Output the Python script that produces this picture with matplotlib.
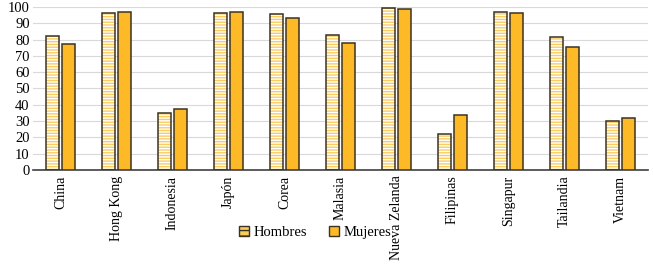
import numpy as np
import matplotlib.pyplot as plt
from matplotlib.patches import Patch

# Data
paises = ['China', 'Hong Kong', 'Indonesia', 'Japón', 'Corea', 'Malasia',
          'Nueva Zelanda', 'Filipinas', 'Singapur', 'Tailandia', 'Vietnam']
hombres = [82, 96.5, 35, 96.5, 95.5, 83, 99.5, 22, 97, 81.5, 30]
mujeres = [77, 97, 37.5, 97, 93.5, 78, 99, 34, 96.5, 75.5, 32]

plt.rcParams['font.family'] = ['Liberation Serif']
plt.rcParams['hatch.linewidth'] = 1.0

fig = plt.figure(figsize=(6.53, 2.66), dpi=100)
ax = fig.add_axes([0.0498, 0.361, 0.9432, 0.613])

x = np.arange(len(paises))
w = 0.24
off = 0.142
edge = '#3b3222'

# Hombres: light yellow with white horizontal stripes
ax.bar(x - off, hombres, w, color='#F9CC5E', hatch='------', edgecolor='white', linewidth=0, zorder=2)
ax.bar(x - off, hombres, w, fill=False, edgecolor=edge, linewidth=1.1, zorder=3)
# Mujeres: solid amber
ax.bar(x + off, mujeres, w, color='#FDBA26', edgecolor=edge, linewidth=1.1, zorder=3)

ax.set_xlim(-0.5, len(paises) - 0.5)
ax.set_ylim(0, 100)
ax.set_yticks(range(0, 101, 10))
ax.yaxis.grid(True, color='#d9d9d9', linewidth=0.8, zorder=0)
ax.set_axisbelow(True)

ax.set_xticks(x)
ax.set_xticklabels(paises, rotation=90, fontsize=10)
ax.tick_params(axis='x', length=0, pad=4)
ax.tick_params(axis='y', length=0, labelsize=10.5, pad=2)

for s in ['top', 'right', 'left']:
    ax.spines[s].set_visible(False)
ax.spines['bottom'].set_color('#404040')
ax.spines['bottom'].set_linewidth(1.2)

handles = [Patch(facecolor='#F9CC5E', edgecolor=edge, hatch='---', label='Hombres'),
           Patch(facecolor='#FDBA26', edgecolor=edge, label='Mujeres')]
fig.legend(handles=handles, loc='center', bbox_to_anchor=(0.483, 0.125), ncol=2,
           frameon=False, fontsize=10.5, handlelength=0.7, handleheight=0.7,
           handletextpad=0.3, columnspacing=1.5)

fig.savefig('out.png', dpi=100)
